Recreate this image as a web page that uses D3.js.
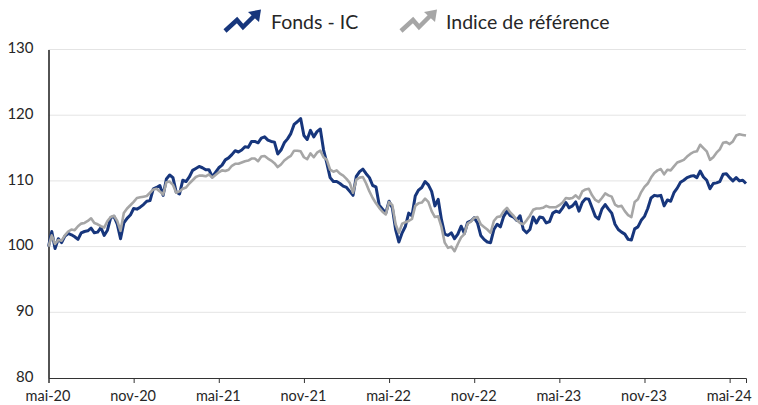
<!DOCTYPE html>
<html>
<head>
<meta charset="utf-8">
<script src="https://cdn.jsdelivr.net/npm/d3@7"></script>
<style>
  html, body { margin: 0; padding: 0; background: #fff; }
  svg { display: block; }
  text { font-family: Lato, sans-serif; fill: #262626; }
</style>
</head>
<body>
<script>
const width = 758;
const height = 405;
const margin = { top: 49.5, right: 12, bottom: 27, left: 48.5 };

// weekly values, one per week from mai-20
const fonds = [
  100.0,102.3,99.7,101.2,100.6,101.6,102.0,101.8,101.5,101.1,102.1,102.3,102.4,102.8,102.1,102.2,102.9,101.7,102.5,104.4,
  104.6,103.4,101.2,103.6,104.3,104.8,105.8,105.7,106.0,106.4,106.9,107.0,108.8,109.0,109.3,107.8,110.3,110.9,110.5,108.3,
  108.0,110.1,109.9,110.6,111.6,111.9,112.2,112.0,111.7,111.7,110.6,111.3,112.0,112.4,113.2,113.5,114.0,114.6,114.4,114.7,
  115.2,115.1,116.0,116.0,115.8,116.5,116.7,116.2,116.0,115.9,114.1,114.7,115.8,116.4,117.2,118.6,119.0,119.5,116.9,116.3,
  117.7,116.7,117.5,117.9,114.7,112.7,110.5,109.9,109.9,109.6,109.2,109.0,108.4,107.8,110.7,111.4,111.8,111.1,110.5,109.3,
  109.1,106.3,105.7,105.1,106.9,105.9,102.6,100.7,102.1,103.1,105.1,104.7,107.7,108.6,109.0,109.9,109.4,108.4,106.2,107.2,
  104.1,101.9,101.7,102.1,101.2,101.9,103.1,102.0,103.7,103.9,104.4,103.6,101.7,101.1,100.7,100.6,102.6,103.4,103.0,104.6,
  105.4,104.7,104.5,104.0,104.7,102.6,102.1,102.6,104.5,103.6,104.5,104.4,103.6,103.8,105.1,105.4,105.2,105.9,106.7,105.9,
  106.2,106.8,105.4,106.7,107.3,107.2,105.9,104.6,104.2,105.7,106.4,105.7,105.1,103.4,102.6,102.2,101.9,101.1,101.0,102.7,
  103.0,104.0,104.6,105.8,107.4,107.8,107.7,107.8,106.2,107.1,106.9,108.2,108.9,109.8,110.1,110.5,110.7,110.8,110.5,111.5,
  110.6,110.1,108.8,109.6,109.7,109.9,111.0,111.1,110.5,110.0,110.5,110.0,110.1,109.6
];
const indice = [
  100.0,101.7,100.4,101.0,100.9,101.7,102.3,102.6,102.5,103.1,103.5,103.6,103.9,104.3,103.6,103.4,103.1,102.9,103.9,104.5,
  104.7,103.9,102.4,105.1,105.8,106.3,106.8,107.4,107.5,107.6,107.7,108.2,108.7,108.8,108.4,107.9,109.8,109.9,109.4,108.2,
  108.4,108.8,109.0,109.6,110.1,110.6,110.8,110.8,110.7,111.0,110.5,110.9,111.3,111.6,111.5,111.7,112.3,112.6,112.6,112.8,
  113.0,113.1,113.4,113.4,113.0,113.7,113.8,113.4,113.1,112.7,112.1,112.5,113.1,113.5,113.8,114.6,114.6,114.5,113.6,113.3,
  114.2,113.6,114.3,114.6,113.6,113.2,111.7,111.4,111.6,111.1,110.8,110.3,109.7,108.2,110.2,110.5,110.6,109.6,108.4,107.4,
  106.6,105.9,105.3,104.9,106.8,106.3,103.4,102.1,103.5,103.7,103.9,104.2,106.2,106.6,106.7,107.3,106.8,105.4,104.5,104.6,
  103.0,100.6,99.8,100.0,99.3,100.4,101.4,101.9,103.5,103.8,104.4,104.5,103.4,103.0,102.6,102.1,103.9,104.5,104.6,105.4,
  105.9,105.2,104.7,104.0,103.6,103.4,104.0,104.7,105.6,105.8,105.8,105.9,106.2,106.0,106.0,106.0,106.3,106.7,107.4,107.3,
  107.4,107.8,107.3,108.4,108.7,108.8,107.8,107.1,106.8,107.4,108.1,107.8,107.6,106.4,106.1,106.2,105.4,104.8,104.5,106.8,
  107.2,108.3,109.1,109.6,110.5,111.2,111.6,111.8,111.0,111.7,111.6,112.2,112.8,113.0,113.2,113.7,114.1,114.4,114.5,115.5,
  115.0,114.5,113.2,113.6,114.3,114.8,115.8,115.9,115.6,116.0,116.9,117.1,117.0,116.9
];
const tickLabels = ["mai-20", "nov-20", "mai-21", "nov-21", "mai-22", "nov-22", "mai-23", "nov-23", "mai-24"];
const tickWeeks = [0, 26, 52, 78, 104, 130, 156, 182, 208];
const yTicks = [80, 90, 100, 110, 120, 130];
const seriesNames = ["Fonds - IC", "Indice de référence"];
const seriesColors = ["#17367c", "#a6a6a6"];

const svg = d3.select("body").append("svg")
    .attr("width", width)
    .attr("height", height);

const x = d3.scaleLinear()
    .domain([0, fonds.length - 1])
    .range([margin.left, width - margin.right]);

const y = d3.scaleLinear()
    .domain([80, 130])
    .range([height - margin.bottom, margin.top]);

//grid lines
svg.append("g").selectAll("line")
    .data(yTicks.filter(d => d != 80))
    .enter()
    .append("line")
    .attr("x1", margin.left)
    .attr("x2", width - margin.right)
    .attr("y1", d => y(d))
    .attr("y2", d => y(d))
    .attr("stroke", "#e4e4e4")
    .attr("stroke-width", 1);

//axes
const yAxis = svg.append("g")
    .attr("transform", "translate(" + margin.left + ",0)")
    .call(d3.axisLeft(y).tickValues(yTicks).tickSize(0).tickPadding(15));
yAxis.select(".domain").attr("stroke", "#1a1a1a").attr("stroke-width", 1.5);
yAxis.selectAll("text")
    .attr("font-size", 15)
    .attr("dy", "0.22em")
    .style("font-family", "Lato, sans-serif");

const xAxis = svg.append("g")
    .attr("transform", "translate(0," + (height - margin.bottom) + ")")
    .call(d3.axisBottom(x)
        .tickValues(tickWeeks)
        .tickFormat((d, i) => tickLabels[i])
        .tickSize(5)
        .tickPadding(8));
xAxis.select(".domain").attr("stroke", "#333").attr("stroke-width", 1);
xAxis.selectAll("line").attr("stroke", "#333");
xAxis.selectAll("text")
    .attr("font-size", 14.5)
    .attr("dx", "-1")
    .style("font-family", "Lato, sans-serif");

//lines
const line = d3.line()
    .x((d, i) => x(i))
    .y(d => y(d));

[fonds, indice].forEach((values, k) => {
    svg.append("path")
        .datum(values)
        .attr("d", line)
        .attr("fill", "none")
        .attr("stroke", seriesColors[k])
        .attr("stroke-width", k == 0 ? 3 : 2.6)
        .attr("stroke-linejoin", "round");
});

//legend with little rising arrows
const legendX = [224, 400];
const legendText = [271, 446];
seriesNames.forEach((name, k) => {
    const g = svg.append("g").attr("transform", "translate(" + legendX[k] + ",0)");
    g.append("path")
        .attr("d", "M1,31 L13,20 L19,27 L31,15")
        .attr("fill", "none")
        .attr("stroke", seriesColors[k])
        .attr("stroke-width", 4.5);
    g.append("path")
        .attr("d", "M24,12 L37,9.5 L35,22 Z")
        .attr("fill", seriesColors[k]);
    svg.append("text")
        .attr("x", legendText[k])
        .attr("y", 29)
        .attr("font-size", 19.5)
        .text(name);
});
</script>
</body>
</html>
